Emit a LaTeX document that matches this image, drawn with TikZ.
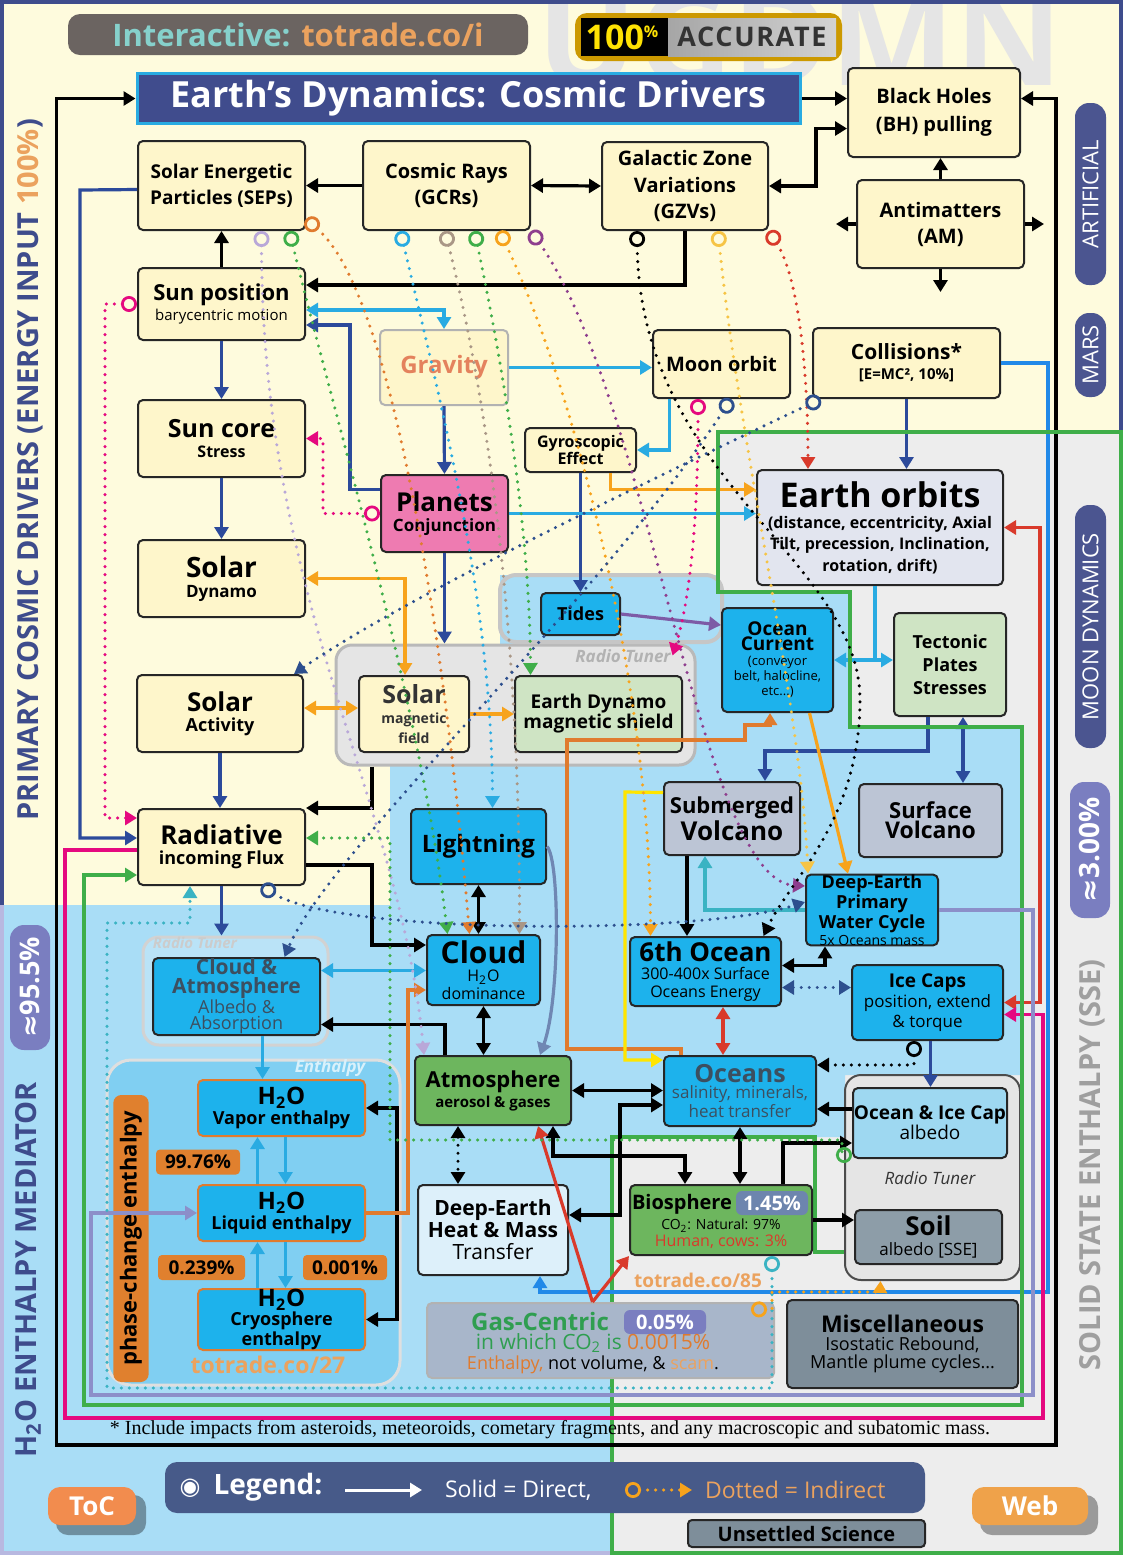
\documentclass[tikz,border=0pt]{standalone}
\usepackage{fontspec}
\setmainfont{Open Sans}
\newfontfamily\serif{Liberation Serif}
\newfontfamily\dejavu{DejaVu Sans}
\usetikzlibrary{arrows.meta}
\newcommand{\fsz}[2]{\fontsize{#1}{#2}\selectfont}

% colours
\definecolor{creambg}{HTML}{FEFBDD}
\definecolor{creambox}{HTML}{FEF6CB}
\definecolor{bluebg}{HTML}{A9DDF6}
\definecolor{greybg}{HTML}{EDEDED}
\definecolor{boxblue}{HTML}{1DB2EC}
\definecolor{boxgreen}{HTML}{6DB65E}
\definecolor{palegreen}{HTML}{CFE4C4}
\definecolor{volcgrey}{HTML}{BCC5D5}
\definecolor{navyline}{HTML}{2C4A9B}
\definecolor{titlenavy}{HTML}{404C8D}
\definecolor{pillnavy}{HTML}{4B5590}
\definecolor{pillpurple}{HTML}{7A7EC0}
\definecolor{cyanline}{HTML}{29ABE2}
\definecolor{orangeline}{HTML}{F7A31C}
\definecolor{rustline}{HTML}{E07B2E}
\definecolor{redline}{HTML}{D93A2B}
\definecolor{pinkline}{HTML}{E5097F}
\definecolor{greenline}{HTML}{3FAE49}
\definecolor{lilacline}{HTML}{8C8FC9}
\definecolor{purpleline}{HTML}{7D5BA6}
\definecolor{tealline}{HTML}{3AB3C3}
\definecolor{slateline}{HTML}{6F87B3}
\definecolor{yellowline}{HTML}{FFE500}
\definecolor{lilacdot}{HTML}{B9A8D8}
\definecolor{tandot}{HTML}{A99786}
\definecolor{plumdot}{HTML}{8E3E8E}
\definecolor{golddot}{HTML}{F6C445}
\definecolor{navydot}{HTML}{2D4F8E}
\definecolor{planetpink}{HTML}{EE7BB1}
\definecolor{orbitgrey}{HTML}{E2E5EF}
\definecolor{pctorange}{HTML}{E0802E}
\definecolor{enthalpybg}{HTML}{80CFF2}
\definecolor{gasgrey}{HTML}{A8B6CA}
\definecolor{miscgrey}{HTML}{7E8E9A}
\definecolor{soilgrey}{HTML}{8D9DA8}
\definecolor{labelnavy}{HTML}{3E4C8C}
\definecolor{legendnavy}{HTML}{475A89}
\definecolor{tocorange}{HTML}{F28C4E}
\definecolor{weborange}{HTML}{EFA24A}
\definecolor{linkteal}{HTML}{86D1CC}
\definecolor{linkorange}{HTML}{EBA25E}
\definecolor{gasgreen}{HTML}{2F9E50}
\definecolor{icealbblue}{HTML}{9ED8F1}
\definecolor{deheatbg}{HTML}{DDF0FA}
\definecolor{gravitytxt}{HTML}{E4825D}
\definecolor{cloudtxt}{HTML}{3C4F60}
\definecolor{biopill}{HTML}{6D85AE}
\definecolor{bannergrey}{HTML}{6B6461}

\tikzset{
  wh/.style 2 args={minimum width={#1*0.5pt}, minimum height={#2*0.5pt}},
  box/.style={draw=black!85, line width=1pt, rounded corners=2.5pt, align=center,
    inner sep=0pt, font=\fsz{9}{10}\bfseries},
  creamnode/.style={box, fill=creambox},
  bluenode/.style={box, fill=boxblue},
  greennode/.style={box, fill=boxgreen},
  volcnode/.style={box, fill=volcgrey},
  tuner/.style={rounded corners=8pt, line width=1.5pt},
  wire/.style={line width=1.6pt},
  dotwire/.style={line width=1.7pt, dash pattern=on 0pt off 4pt, line cap=round},
  tip/.style={-{Triangle[width=7pt,length=6pt]}},
  tips/.style={{Triangle[width=7pt,length=6pt]}-{Triangle[width=7pt,length=6pt]}},
  backtip/.style={{Triangle[width=7pt,length=6pt]}-},
  ring/.style={{Circle[open,length=8pt,width=8pt,line width=1.4pt]}-{Triangle[width=7pt,length=6pt]}},
  pill/.style={rounded corners=7pt, text=white, inner sep=0pt},
  pct/.style={fill=pctorange, rounded corners=2pt, font=\fsz{9.5}{10}\bfseries, inner sep=0pt}
}

\begin{document}
\begin{tikzpicture}[x=0.5pt, y=-0.5pt]
\useasboundingbox (0,0) rectangle (1123,1555);

% backgrounds
\fill[greybg] (0,0) rectangle (1123,1555);
\fill[creambg] (0,0) -- (1123,0) -- (1123,432) -- (718,432) -- (718,575) -- (500,575)
  -- (500,765) -- (390,765) -- (390,905) -- (0,905) -- cycle;
\fill[bluebg] (0,905) -- (390,905) -- (390,765) -- (500,765) -- (500,575) -- (718,575)
  -- (718,592) -- (850,592) -- (850,727) -- (1022,727) -- (1022,1075) -- (845,1075)
  -- (845,1137) -- (612,1137) -- (612,1555) -- (0,1555) -- cycle;
\node[text=gray!20, font=\fsz{66}{66}\bfseries] (mark) at (800,38) {UGDMN};
\draw[labelnavy, line width=3pt] (1,905) -- (1,1) -- (1122,1) -- (1122,432);
\draw[gray!60!blue!40, line width=3pt] (1,905) -- (1,1554) -- (612,1554);
\draw[greenline, line width=1.6pt] (845,1252) -- (815,1252) -- (815,1137) -- (612,1137)
  -- (612,1553) -- (1121,1553) -- (1121,432);

% header
\node[fill=bannergrey, rounded corners=6pt, wh={460}{41}, font=\fsz{15.5}{15.5}\bfseries]
  (interactive) at (298,34.5) {\color{linkteal}Interactive: \color{linkorange}totrade.co/i};
\fill[orange!50!yellow!80!black, rounded corners=6pt] (575,13) rectangle (842,61);
\fill[black] (581,18) rectangle (668,56);
\shade[left color=gray!70, right color=gray!35] (668,18) rectangle (836,56);
\node[text=yellow!85!orange, font=\fsz{17}{17}\bfseries] (hundred) at (622,37)
  {100{\fsz{8}{8}\raisebox{6pt}{\%}}};
\node[text=black!80, font=\fsz{13.5}{13.5}\bfseries\addfontfeature{LetterSpace=6}] (accurate)
  at (752,37) {ACCURATE};
\node[fill=titlenavy, draw=cyanline, line width=1.5pt, wh={663}{47}, text=white,
  font=\fsz{18}{18}\bfseries] (title) at (468.5,98.5) {Earth’s Dynamics: Cosmic Drivers};

% side labels
\node[rotate=90, text=labelnavy, font=\fsz{14.5}{15}\bfseries] (primary) at (30,470)
  {PRIMARY COSMIC DRIVERS (ENERGY INPUT {\color{linkorange}100\%})};
\node[rotate=90, text=labelnavy, font=\fsz{14.5}{15}\bfseries] (mediator) at (28,1270)
  {H\textsubscript{2}O ENTHALPY MEDIATOR};
\node[rotate=90, text=gray!75, font=\fsz{14.5}{15}\bfseries] (sse) at (1092,1165)
  {SOLID STATE ENTHALPY (SSE)};
\node[pill, fill=pillpurple, rotate=90, wh={125}{40}, font=\fsz{13.5}{13.5}\bfseries] (lowpct)
  at (30,987.5) {{\dejavu\bfseries ≈}95.5\%};
\node[pill, fill=pillnavy, rotate=90, wh={182}{31}, font=\fsz{11}{11}] (artificial)
  at (1090.5,194) {ARTIFICIAL};
\node[pill, fill=pillnavy, rotate=90, wh={84}{31}, font=\fsz{11}{11}] (mars)
  at (1090.5,355) {MARS};
\node[pill, fill=pillnavy, rotate=90, wh={243}{31}, font=\fsz{11}{11}] (moondyn)
  at (1090.5,626.5) {MOON DYNAMICS};
\node[pill, fill=pillpurple, rotate=90, wh={136}{40}, font=\fsz{14}{14}\bfseries] (highpct)
  at (1090,850) {{\dejavu\bfseries ≈}3.00\%};

% radio tuner and enthalpy areas
\node[tuner, draw=gray!55, fill=gray!20, wh={359}{120}] (magbox) at (515.5,705) {};
\node[tuner, draw=gray!45, line width=2pt, wh={222}{67}] (tidetuner) at (611,608.5) {};
\node[tuner, draw=gray!35, fill=white, fill opacity=.2, wh={185}{108}] (cloudtuner)
  at (235.5,991) {};
\node[tuner, draw=gray!25, fill=enthalpybg, rounded corners=12pt, wh={293}{325}] (enthalpy)
  at (253.5,1222.5) {};
\node[tuner, draw=black!70, line width=1pt, fill=gray!20, wh={175}{205}] (soiltuner)
  at (932.5,1177.5) {};
\node[text=gray!60, font=\fsz{8.5}{9}\bfseries\itshape] (tunerA) at (623,656) {Radio Tuner};
\node[text=gray!40, font=\fsz{7.5}{8}\bfseries\itshape] (tunerB) at (195,943) {Radio Tuner};
\node[text=black!80, font=\fsz{8.5}{9}\itshape] (tunerC) at (930,1178) {Radio Tuner};
\node[text=white!70!enthalpybg, font=\fsz{8.5}{9}\bfseries\itshape] (enthlabel) at (330,1068) {Enthalpy};

% cosmic drivers
\node[creamnode, wh={167}{89}, font=\fsz{9.5}{13}\bfseries] (sep) at (221.5,185.5)
  {Solar Energetic\\Particles (SEPs)};
\node[creamnode, wh={167}{89}, font=\fsz{10}{13}\bfseries] (gcr) at (446.5,185.5)
  {Cosmic Rays\\(GCRs)};
\node[creamnode, wh={166}{88}, font=\fsz{10}{13.3}\bfseries] (gzv) at (685,186)
  {Galactic Zone\\Variations\\(GZVs)};
\node[creamnode, wh={172}{89}, font=\fsz{10}{14}\bfseries] (bh) at (934,112.5)
  {Black Holes\\(BH) pulling};
\node[creamnode, wh={167}{88}, font=\fsz{10}{13}\bfseries] (am) at (940.5,224)
  {Antimatters\\(AM)};
\node[creamnode, wh={167}{72}] (sunpos) at (221.5,304)
  {{\fsz{11}{11}\bfseries Sun position}\\{\fsz{7.5}{8}\mdseries barycentric motion}};
\node[creamnode, draw=gray!60, wh={128}{75}] (gravity) at (444,367.5)
  {\fsz{12}{12}\bfseries\color{gravitytxt}Gravity};
\node[creamnode, wh={137}{68}, font=\fsz{10}{10}\bfseries] (moon) at (721.5,364) {Moon orbit};
\node[creamnode, wh={187}{70}] (coll) at (906.5,363)
  {{\fsz{10.5}{11}\bfseries Collisions*}\\{\fsz{7.5}{9}\bfseries [E=MC², 10\%]}};
\node[creamnode, wh={167}{77}] (suncore) at (221.5,438.5)
  {{\fsz{12.5}{13}\bfseries Sun core}\\{\fsz{8}{8}\bfseries Stress}};
\node[creamnode, wh={111}{44}, font=\fsz{8}{8.5}\bfseries] (gyro) at (580.5,450)
  {Gyroscopic\\Effect};
\node[box, fill=planetpink, wh={127}{77}] (planets) at (444.5,513.5)
  {{\fsz{13}{13}\bfseries Planets}\\{\fsz{8.5}{8}\bfseries Conjunction}};
\node[box, fill=orbitgrey, wh={246}{115}, font=\fsz{8}{10.7}\bfseries] (orbits) at (880,527.5)
  {{\fsz{17}{18}\bfseries Earth orbits}\\(distance, eccentricity, Axial\\
   Tilt, precession, Inclination,\\rotation, drift)};
\node[creamnode, wh={167}{77}] (dynamo) at (221.5,578.5)
  {{\fsz{14}{14}\bfseries Solar}\\{\fsz{8.5}{9}\bfseries Dynamo}};
\node[creamnode, wh={166}{77}] (activity) at (220,713.5)
  {{\fsz{13}{13}\bfseries Solar}\\{\fsz{9}{9}\bfseries Activity}};
\node[creamnode, wh={167}{76}] (radiative) at (221.5,847)
  {{\fsz{13}{13}\bfseries Radiative}\\{\fsz{9}{9}\bfseries incoming Flux}};

% earth dynamics
\node[bluenode, wh={79}{42}] (tides) at (580.5,614) {Tides};
\node[bluenode, wh={111}{104}, font=\fsz{6.5}{7.5}\mdseries] (current) at (777.5,660)
  {{\fsz{9.5}{9}\bfseries Ocean}\\{\fsz{9.5}{9}\bfseries Current}\\(conveyor\\belt, halocline,\\etc...)};
\node[box, fill=palegreen, wh={112}{103}, font=\fsz{9}{11.5}\bfseries] (tectonic) at (950,664.5)
  {Tectonic\\Plates\\Stresses};
\node[creamnode, wh={110}{76}, text=black!80] (solmag) at (414,714)
  {{\fsz{12.5}{12.5}\bfseries Solar}\\{\fsz{7}{7}\bfseries magnetic}\\{\fsz{7}{7}\bfseries field}};
\node[box, fill=palegreen, wh={167}{76}, font=\fsz{9.5}{10}\bfseries] (edynamo) at (598.5,714)
  {Earth Dynamo\\magnetic shield};
\node[volcnode, wh={136}{73}] (subvol) at (732,818.5)
  {{\fsz{11}{11}\bfseries Submerged}\\{\fsz{13}{13}\bfseries Volcano}};
\node[volcnode, wh={143}{73}] (surfvol) at (930.5,820.5)
  {{\fsz{11}{11}\bfseries Surface}\\{\fsz{11.5}{11.5}\bfseries Volcano}};
\node[bluenode, wh={135}{75}, font=\fsz{12}{12}\bfseries] (lightning) at (478.5,846.5) {Lightning};
\node[bluenode, wh={132}{70}, font=\fsz{9}{8.5}\bfseries] (dewater) at (872,910)
  {Deep-Earth\\Primary\\Water Cycle\\{\fsz{7}{7}\mdseries 5x Oceans mass}};
\node[bluenode, wh={113}{70}, font=\fsz{8}{9}\mdseries] (cloud) at (483.5,970)
  {{\fsz{15}{15}\bfseries Cloud}\\H\textsubscript{2}O\\dominance};
\node[bluenode, wh={151}{69}, font=\fsz{8}{9}\mdseries] (sixth) at (705.5,971.5)
  {{\fsz{13}{13}\bfseries 6th Ocean}\\300-400x Surface\\Oceans Energy};
\node[bluenode, wh={151}{75}, font=\fsz{8.5}{10}\mdseries] (icecaps) at (927.5,1002.5)
  {{\fsz{9.5}{9.5}\bfseries Ice Caps}\\position, extend\\\& torque};
\node[bluenode, wh={167}{77}, text=cloudtxt, font=\fsz{9}{8}\mdseries] (cloudatm) at (236.5,996.5)
  {{\fsz{10.5}{10}\bfseries Cloud \&}\\{\fsz{10.5}{10}\bfseries Atmosphere}\\Albedo \&\\Absorption};
\node[greennode, wh={156}{69}] (atmos) at (493,1090.5)
  {{\fsz{11}{11}\bfseries Atmosphere}\\{\fsz{7.5}{7.5}\bfseries aerosol \& gases}};
\node[bluenode, wh={152}{70}, text=cloudtxt, font=\fsz{8.5}{8}\mdseries] (oceans) at (740,1091)
  {{\fsz{12.5}{12.5}\bfseries Oceans}\\salinity, minerals,\\heat transfer};
\node[box, fill=icealbblue, wh={154}{70}] (icealb) at (930,1123)
  {{\fsz{9.5}{9.5}\bfseries Ocean \& Ice Cap}\\{\fsz{9.5}{9.5}\mdseries albedo}};
\node[box, fill=soilgrey, wh={147}{54}] (soil) at (928.5,1237)
  {{\fsz{13}{13}\bfseries Soil}\\{\fsz{8.5}{8.5}\mdseries albedo [SSE]}};
\node[bluenode, draw=rustline, wh={167}{56}] (vapor) at (281.5,1108)
  {{\fsz{12}{11}\bfseries H\textsubscript{2}O}\\{\fsz{9}{9}\bfseries Vapor enthalpy}};
\node[bluenode, draw=rustline, wh={167}{56}] (liquid) at (281.5,1213)
  {{\fsz{12}{11}\bfseries H\textsubscript{2}O}\\{\fsz{9}{9}\bfseries Liquid enthalpy}};
\node[bluenode, draw=rustline, wh={167}{57}, font=\fsz{9}{8}\bfseries] (cryo) at (281.5,1319.5)
  {{\fsz{12}{11}\bfseries H\textsubscript{2}O}\\Cryosphere\\enthalpy};
\node[box, fill=deheatbg, wh={150}{90}, font=\fsz{10.5}{11}\bfseries] (deheat) at (493,1230)
  {Deep-Earth\\Heat \& Mass\\{\mdseries Transfer}};
\node[greennode, wh={182}{70}] (bio) at (721,1220) {};
\node[font=\fsz{10}{10}\bfseries] (biotitle) at (682,1204) {Biosphere};
\node[pill, fill=biopill, rounded corners=3pt, wh={72}{24}, font=\fsz{10}{10}\bfseries] (biopct)
  at (772,1203) {1.45\%};
\node[align=center, font=\fsz{7}{8.5}\mdseries] (biotext) at (721,1234)
  {CO\textsubscript{2}: Natural: 97\%\\{\color{redline}\fsz{8}{8}Human, cows: 3\%}};
\node[box, draw=gray!60, fill=gasgrey, wh={347}{75}] (gas) at (600.5,1340.5) {};
\node[text=gasgreen, font=\fsz{12}{12}\bfseries] (gastitle) at (540,1321) {Gas-Centric};
\node[pill, fill=pillpurple, rounded corners=3pt, wh={82}{24}, font=\fsz{10}{10}\bfseries] (gaspct)
  at (665,1322) {0.05\%};
\node[text=gasgreen, font=\fsz{10.5}{10.5}] (gasline) at (593,1343)
  {in which CO\textsubscript{2} is {\color{rustline}0.0015\%}};
\node[font=\fsz{9}{9}] (gasnote) at (593,1365)
  {{\color{rustline}Enthalpy,} not volume, \& {\color{linkorange}scam}.};
\node[box, fill=miscgrey, wh={231}{88}, font=\fsz{9}{9}\mdseries] (misc) at (902.5,1344)
  {{\fsz{11.5}{11.5}\bfseries Miscellaneous}\\Isostatic Rebound,\\Mantle plume cycles...};

% enthalpy side notes
\node[fill=pctorange, rounded corners=4pt, rotate=90, wh={287}{28}, font=\fsz{11}{11}\bfseries]
  (phase) at (131,1238.5) {phase-change enthalpy};
\node[pct, wh={84}{25}] (pctA) at (198,1162) {99.76\%};
\node[pct, wh={87}{25}] (pctB) at (201.5,1267.5) {0.239\%};
\node[pct, wh={84}{25}] (pctC) at (345,1267.5) {0.001\%};
\node[text=linkorange, font=\fsz{11.5}{12}\bfseries] (link27) at (268,1365) {totrade.co/27};
\node[text=linkorange, font=\fsz{9.5}{10}\bfseries] (link85) at (698,1280) {totrade.co/85};

% solid connectors: black
\draw[wire, tip] (gcr.west) -- (sep.east);
\draw[wire, tips] (gcr.east) -- (gzv.west);
\draw[wire, tips] (gzv.east) -- ++(47,0) |- ([yshift=-8pt]bh.west);
\draw[wire, tip] (title.east) -- (title.east -| bh.west);
\coordinate (amL) at (836,224);
\coordinate (amR) at (1044,224);
\coordinate (amD) at (940.5,292);
\draw[wire, tip] (am.north) -- (am.north |- bh.south);
\draw[wire, tip] (am.west) -- (amL);
\draw[wire, tip] (am.east) -- (amR);
\draw[wire, tip] (am.south) -- (amD);
\draw[wire, tips] (title.west) -- ++(-79,0) |- (1056,1445) |- ([yshift=7pt]bh.east);
\draw[wire, tip] (gzv.south) |- ([yshift=9.5pt]sunpos.east);
\draw[wire, tip] (sunpos.north) -- (sep.south);
\draw[wire, tip] (magbox.south -| 372,0) |- ([yshift=19.5pt]radiative.east);
\draw[wire, tip] ([yshift=-9pt]radiative.east) -- (372,865) |- ([yshift=12.5pt]cloud.west);
\draw[wire, tips] (lightning.south) -- (lightning.south |- cloud.north);
\draw[wire, tips] (cloud.south) -- (cloud.south |- atmos.north);
\draw[wire, tip] ([xshift=-24pt]atmos.north) |- ([yshift=-14pt]cloudatm.east);
\draw[wire, tips] (atmos.east) -- (atmos.east -| oceans.west);
\draw[wire, tips] ([xshift=30pt]atmos.south) -- ++(0,30) -| ([xshift=-18pt]bio.north);
\draw[wire, tips] (oceans.south) -- (oceans.south |- bio.north);
\draw[wire, tip] (bio.east) -- (bio.east -| soil.west);
\draw[wire, tip] ([xshift=31pt]bio.north) |- ([yshift=-10pt]icealb.west);
\draw[wire, tip] ([yshift=7pt]icealb.west) -- ([yshift=7pt]icealb.west -| oceans.east);
\draw[wire, tips] ([yshift=-7pt]oceans.west) -- (620,1105) |- ([yshift=7.5pt]deheat.east);
\draw[wire, tips] (vapor.east) -- (397,1108) |- (cryo.east);
\draw[wire, tip] ([xshift=-22.5pt]subvol.south) -- ([xshift=-22.5pt]subvol.south |- sixth.north);
\draw[wire, tips] ([yshift=3pt]sixth.east) -| ([xshift=-23.5pt]dewater.south);
\draw[dotwire, tips] ([xshift=-17.5pt]atmos.south) -- ([xshift=-17.5pt]atmos.south |- deheat.north);

% solid connectors: navy
\draw[wire, navyline, tip] (sunpos.south) -- (suncore.north);
\draw[wire, navyline, tip] (suncore.south) -- (dynamo.north);
\draw[wire, navyline, tip] (activity.south) -- (activity.south |- radiative.north);
\draw[wire, navyline, tip] (radiative.south) -- (radiative.south |- cloudtuner.north);
\draw[wire, navyline, tip] (gravity.south) -- (planets.north);
\draw[wire, navyline, tip] (planets.south) -- (planets.south |- magbox.north);
\draw[wire, navyline, tip] ([yshift=12pt]planets.west) -| (350,400) |- ([yshift=-10.5pt]sunpos.east);
\draw[wire, navyline, tip] ([yshift=-2pt]sep.west) -- (80,190) |- ([yshift=4.5pt]radiative.west);
\draw[wire, navyline, tip] (gyro.south) -- (tides.north);
\draw[wire, navyline, tip] (coll.south) -- (coll.south |- orbits.north);
\draw[wire, navyline, tip] ([xshift=-11pt]tectonic.south) -- ++(0,34) -| ([xshift=16.5pt]subvol.north);
\draw[wire, navyline, tips] ([xshift=6.5pt]tectonic.south) -- ([xshift=6.5pt]tectonic.south |- surfvol.north);
\draw[wire, navyline, tip] ([xshift=1.5pt]icecaps.south) -- ([xshift=1.5pt]icecaps.south |- icealb.north);

% solid connectors: cyan
\draw[wire, cyanline, tips] ([yshift=-3pt]sunpos.east) -| (gravity.north);
\draw[wire, cyanline, tip] (gravity.east) -- (gravity.east -| moon.west);
\draw[wire, cyanline, tip] ([xshift=-26pt]moon.south) |- (gyro.east);
\draw[wire, cyanline, tip] (planets.east) -- (planets.east -| orbits.west);
\draw[wire, cyanline] ([xshift=-2.5pt]orbits.south) -- ([xshift=-2.5pt]orbits.south |- current.east);
\draw[wire, cyanline, tips] (current.east) -- (current.east -| tectonic.west);
\draw[wire, cyanline!80!blue, tip] (coll.east) -| (1048,1292) -| ([xshift=23.5pt]deheat.south);
\draw[wire, cyanline, tips] ([yshift=13pt]cloudatm.east) -- ([yshift=13pt]cloudatm.east -| cloud.west);
\draw[wire, cyanline, tip] ([xshift=13pt]cloudatm.south) -- ([xshift=13pt]cloudatm.south |- vapor.north);
\draw[wire, cyanline, tip] ([xshift=-12pt]liquid.north) -- ([xshift=-12pt]vapor.south);
\draw[wire, cyanline, tip] ([xshift=2pt]vapor.south) -- ([xshift=2pt]liquid.north);
\draw[wire, cyanline, tip] ([xshift=-12pt]cryo.north) -- ([xshift=-12pt]liquid.south);
\draw[wire, cyanline, tip] ([xshift=2pt]liquid.south) -- ([xshift=2pt]cryo.north);

% solid connectors: orange and red
\draw[wire, orangeline, tip] ([xshift=15pt]gyro.south) |- ([yshift=19pt]orbits.west);
\draw[wire, orangeline, tips] (dynamo.east) -| ([xshift=-4.5pt]solmag.north);
\draw[wire, orangeline, tips] ([yshift=2.75pt]activity.east) -- ([yshift=2.75pt]activity.east -| solmag.west);
\draw[wire, orangeline, tip] (solmag.east) -- (solmag.east -| edynamo.west);
\draw[wire, orangeline, tip] ([xshift=16pt]current.south) -- ([xshift=-12pt]dewater.north);
\draw[wire, rustline, tip] (liquid.east) -- (408,1213) |- ([yshift=-10pt]cloud.west);
\draw[wire, rustline, tip] ([xshift=-29.5pt]oceans.north) -- ++(0,-6) -| (567,740) -- (745,740)
  -- (745,725) -- (770,725) -- ([xshift=-3.75pt]current.south);
\draw[wire, redline, tips] (orbits.east) -| (1040,700) |- (icecaps.east);
\draw[wire, redline, tips] ([xshift=8.75pt]sixth.south) -- ([xshift=8.75pt]sixth.south |- oceans.north);
\draw[wire, redline, tip] ([xshift=-4pt]gas.north) -- ([xshift=22.5pt]atmos.south);
\draw[wire, redline, tip] ([xshift=-4pt]gas.north) -- (bio.south west);

% solid connectors: wrap-around and others
\draw[wire, pinkline, tip] ([yshift=-1.5pt]radiative.west) -- (65,850) |- (1043,1418)
  |- ([yshift=-6pt]icecaps.east);
\draw[wire, greenline, backtip] ([yshift=-14pt]radiative.west) -- (84,875) |- (1022,1405)
  -- (1022,727) -- (850,727) -- (850,592) -- (718,592) -- (718,432) -- (1123,432);
\draw[wire, lilacline, backtip] (liquid.west) -- ++(-106,0) |- (1033,1395) |- (dewater.east);
\draw[wire, purpleline, tip] (tides.east) -- ([yshift=17.5pt]current.west);
\draw[wire, tealline, tip] (dewater.west) -| ([xshift=-13.5pt]subvol.south);
\draw[wire, slateline, tip] (lightning.east) .. controls (560,860) and (560,1000)
  .. ([xshift=23.5pt]atmos.north);
\draw[wire, yellowline, tip] ([yshift=13pt]subvol.west) -- (625,792) |- ([yshift=15.5pt]oceans.west);

% dotted connectors
\draw[dotwire, lilacdot, ring] ([xshift=20pt]sep.south) .. controls (262,600) and (400,800)
  .. ([xshift=5pt]atmos.north west);
\draw[dotwire, greenline, ring] ([xshift=34pt]sep.south) .. controls (330,400) and (420,700)
  .. ([xshift=-18pt]cloud.north);
\draw[dotwire, rustline, ring] ([yshift=6pt]sep.south east) .. controls (400,300) and (450,700)
  .. ([xshift=-7pt]cloud.north);
\draw[dotwire, cyanline, ring] ([xshift=-23pt]gcr.south) .. controls (440,400) and (492,600)
  .. ([xshift=7pt]lightning.north);
\draw[dotwire, tandot, ring] ([xshift=-0.75pt]gcr.south) .. controls (500,450) and (520,700)
  .. ([xshift=18pt]cloud.north);
\draw[dotwire, greenline, ring] ([xshift=14pt]gcr.south) .. controls (510,400) and (530,550)
  .. ([xshift=-34pt]edynamo.north);
\draw[dotwire, orangeline, ring] ([xshift=26.5pt]gcr.south) .. controls (580,400) and (650,700)
  .. ([xshift=-27.5pt]sixth.north);
\draw[dotwire, plumdot, ring] (gcr.south east) .. controls (650,400) and (700,880)
  .. ([yshift=12pt]dewater.west);
\draw[dotwire, black, ring] ([xshift=-24pt]gzv.south) .. controls (640,480) and (860,560)
  .. (860,700) .. controls (860,820) and (790,880) .. ([xshift=29pt]sixth.north);
\draw[dotwire, golddot, ring] ([xshift=16.5pt]gzv.south) .. controls (740,450) and (800,700)
  .. ([xshift=-32pt]dewater.north);
\draw[dotwire, redline, ring] ([xshift=42pt]gzv.south) .. controls (800,280) and (808,380)
  .. ([xshift=-36pt]orbits.north);
\draw[dotwire, pinkline, ring] ([xshift=-11.75pt]moon.south) .. controls (698,520) and (690,600)
  .. ([xshift=-12pt,yshift=-6pt]magbox.north east);
\draw[dotwire, navydot, ring] ([xshift=4.75pt]moon.south) .. controls (600,600) and (330,850)
  .. ([xshift=24pt]cloudatm.north);
\draw[dotwire, navydot, ring] ([xshift=-43pt]coll.south) .. controls (650,480) and (400,600)
  .. ([xshift=37pt]activity.north);
\draw[dotwire, pinkline, ring] (sunpos.west) -- (105,304) |- ([yshift=14.5pt]radiative.west);
\draw[dotwire, pinkline, ring] (planets.west) -- (323,513.5) |- (suncore.east);
\draw[dotwire, navydot, ring] ([xshift=20pt]radiative.south) .. controls (340,935) and (700,935)
  .. ([yshift=4pt]dewater.west);
\draw[dotwire, greenline, ring] ([yshift=-16pt]icealb.west) -- ++(-10,0) |- (390,1140)
  |- ([yshift=4.5pt]radiative.east);
\draw[dotwire, tealline, ring] ([xshift=25.5pt]bio.south) |- (107,1388) |- (190,923)
  -- ([xshift=-15.75pt]radiative.south);
\draw[dotwire, orangeline, ring] ([xshift=-12pt,yshift=-3.5pt]gas.north east) -- (772,1310)
  |- (880,1292) -- ([xshift=-26pt]soiltuner.south);
\draw[dotwire, navydot, tips] ([yshift=-8pt]sixth.east) -- ([yshift=-8pt]sixth.east -| icecaps.west);
\draw[dotwire, black, ring] ([xshift=-6.75pt]icecaps.south) |- ([yshift=13pt]oceans.east);

% footnote and legend
\node[font=\serif\fsz{10}{10}] (footnote) at (550,1430)
  {* Include impacts from asteroids, meteoroids, cometary fragments, and any macroscopic and subatomic mass.};
\node[fill=legendnavy, rounded corners=6pt, wh={760}{51}] (legend) at (545,1487.5) {};
\node[text=white, font=\dejavu\fsz{12}{12}] (legdot) at (190,1488) {◉};
\node[text=white, font=\fsz{14}{14}\bfseries] (legtitle) at (268,1487) {Legend:};
\coordinate (legA) at (345,1490);
\coordinate (legB) at (422,1490);
\draw[white, line width=1.5pt, tip] (legA) -- (legB);
\node[text=white, anchor=west, font=\fsz{11.5}{12}] (legsolid) at (438,1490) {Solid = Direct,};
\coordinate (legC) at (625,1490);
\coordinate (legD) at (692,1490);
\draw[dotwire, orangeline, ring] (legC) -- (legD);
\node[text=linkorange, anchor=west, font=\fsz{11.5}{12}] (legdotted) at (698,1490) {Dotted = Indirect};
\node[box, fill=miscgrey, rounded corners=2pt, wh={237}{27}, font=\fsz{10}{10}\bfseries] (unsettled)
  at (806.5,1533.5) {Unsettled Science};
\fill[black, opacity=.35, rounded corners=6pt] (56,1495) rectangle (146,1535);
\node[fill=tocorange, rounded corners=6pt, wh={88}{38}, text=white, font=\fsz{13}{13}\bfseries]
  (toc) at (92,1506) {ToC};
\fill[black, opacity=.35, rounded corners=6pt] (980,1495) rectangle (1098,1535);
\node[fill=weborange, rounded corners=6pt, wh={116}{38}, text=white, font=\fsz{13}{13}\bfseries]
  (web) at (1030,1506) {Web};
\end{tikzpicture}
\end{document}
